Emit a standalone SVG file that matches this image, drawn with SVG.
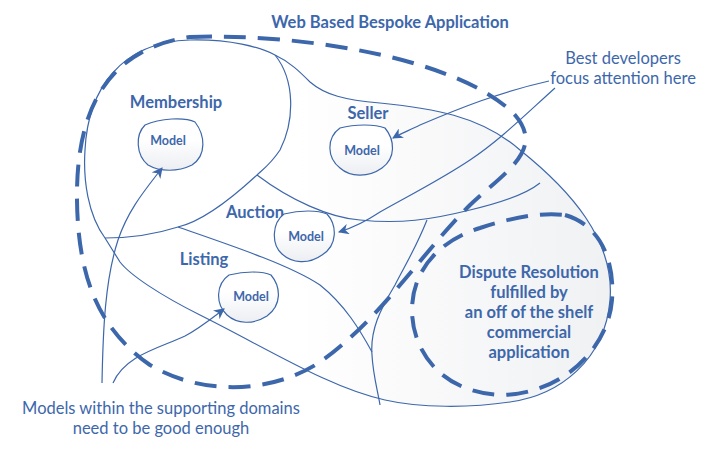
<svg xmlns="http://www.w3.org/2000/svg" width="716" height="455" viewBox="0 0 716 455">
<defs>
<style>
.l{fill:none;stroke:#3d67ab;stroke-width:1.2}
.d{fill:none;stroke:#3d67ab;stroke-width:4;stroke-dasharray:22 12}
.t{font-family:Lato,"Open Sans",sans-serif;fill:#3d67ab;text-anchor:middle}
.b{font-weight:bold;font-size:16.5px}
.m{font-weight:bold;font-size:12.5px}
.n{font-size:16.5px}
.mo{fill:url(#g);stroke:#3d67ab;stroke-width:1.2}
</style>
<linearGradient id="g" x1="0" y1="0" x2="0" y2="1"><stop offset="0.4" stop-color="#fff"/><stop offset="1" stop-color="#eceef2"/></linearGradient>
<linearGradient id="bg" x1="0" y1="0" x2="1" y2="0"><stop offset="0.4" stop-color="#fff"/><stop offset="1" stop-color="#f0f1f3"/></linearGradient>
<marker id="a" viewBox="0 0 10 10" refX="9" refY="5" markerWidth="9" markerHeight="9" orient="auto"><path d="M0,0 L10,5 L0,10 L3,5 Z" fill="#3d67ab"/></marker>
</defs>
<g id="regions">
<path class="l" style="fill:url(#bg)" d="M105,238 C88,215 83,180 85,150 C88,90 120,42 190,40 C230,39 260,47 275,55 C290,62 300,72 310,82 C325,95 345,100 380,103 C430,108 480,115 520,150 C570,190 615,240 610,300 C605,360 560,395 510,402 C470,408 420,408 385,400 C330,388 270,350 200,315 C160,295 130,275 120,262 Z"/>
<path class="l" d="M275,55 C295,80 295,120 280,150 C270,165 262,170 257,175 C230,200 200,222 178,227 C150,236 125,238 105,238"/>
<path class="l" d="M257,175 C290,200 330,218 360,220 C400,224 430,220 470,210 C500,203 525,195 540,183"/>
<path class="l" d="M178,227 C230,245 290,265 320,285 C345,305 360,330 372,352"/>
<path class="l" d="M427,220 C415,250 405,265 395,285 C380,310 370,330 372,355 C373,375 378,392 380,405"/>
</g>
<g id="dashed">
<path class="d" d="M190,37 C300,33 460,58 515,115 C545,150 505,172 470,205 C420,255 380,320 320,362 C270,395 200,395 150,365 C100,330 78,280 77,200 C76,120 100,50 190,37 Z"/>
<path class="d" d="M565,215 C600,225 615,260 612,300 C608,350 560,395 500,395 C440,392 412,350 412,310 C412,270 440,240 480,228 C510,218 540,212 565,215 Z"/>
</g>
<g id="membership"><text class="t b" x="176" y="108">Membership</text><path class="mo" d="M145,125 C160,118 185,117 195,122 C205,135 207,155 192,165 C178,172 160,172 148,165 C136,155 135,135 145,125 Z"/><text class="t m" x="168" y="145">Model</text></g>
<g id="seller"><text class="t b" x="368" y="119">Seller</text><path class="mo" d="M340,128 C355,124 375,124 385,128 C395,140 396,158 382,168 C368,178 350,177 340,168 C327,158 326,138 340,128 Z"/><text class="t m" x="362" y="155">Model</text></g>
<g id="auction"><text class="t b" x="255" y="218">Auction</text><path class="mo" d="M284,214 C300,210 318,210 327,214 C337,225 338,245 322,255 C308,265 292,263 282,254 C271,244 272,223 284,214 Z"/><text class="t m" x="306" y="241">Model</text></g>
<g id="listing"><text class="t b" x="204" y="265">Listing</text><path class="mo" d="M229,275 C245,271 262,271 271,275 C281,287 282,305 267,316 C253,325 237,324 227,315 C215,304 216,284 229,275 Z"/><text class="t m" x="251" y="301">Model</text></g>
<g id="dispute">
<text class="t b" x="529" y="278">Dispute Resolution</text>
<text class="t b" x="529" y="298">fulfilled by</text>
<text class="t b" x="529" y="318">an off of the shelf</text>
<text class="t b" x="529" y="338">commercial</text>
<text class="t b" x="529" y="358">application</text>
</g>
<g id="labels">
<text class="t b" x="390" y="28">Web Based Bespoke Application</text>
<text class="t n" x="623" y="64">Best developers</text>
<text class="t n" x="623" y="84">focus attention here</text>
<text class="t n" x="161" y="414">Models within the supporting domains</text>
<text class="t n" x="161" y="434">need to be good enough</text>
</g>
<g id="connectors">
<path class="l" marker-end="url(#a)" d="M102,383 C103,330 105,280 118,240 C128,210 145,190 162,168"/>
<path class="l" marker-end="url(#a)" d="M113,383 C125,355 160,348 185,336 C200,328 212,318 224,309"/>
<path class="l" marker-end="url(#a)" d="M549,81 C500,92 460,108 420,125 C410,130 400,134 393,138"/>
<path class="l" marker-end="url(#a)" d="M555,88 C525,115 500,140 470,160 C440,180 410,195 380,212 C365,222 352,228 339,232"/>
</g>
</svg>
